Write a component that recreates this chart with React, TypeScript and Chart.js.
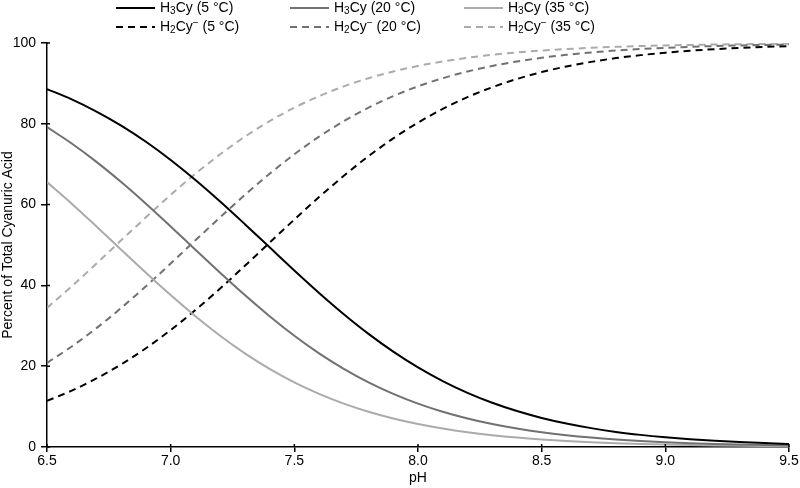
import React, { useEffect, useRef } from 'react';
import { Chart, registerables } from 'chart.js';

Chart.register(...registerables);

const pH = [6.5, 6.6, 6.7, 6.8, 6.9, 7.0, 7.1, 7.2, 7.3, 7.4, 7.5, 7.6, 7.7, 7.8, 7.9, 8.0, 8.1, 8.2, 8.3, 8.4, 8.5, 8.6, 8.7, 8.8, 8.9, 9.0, 9.1, 9.2, 9.3, 9.4, 9.5];

const h3cy5 = [88.59, 86.05, 83.04, 79.55, 75.55, 71.05, 66.10, 60.77, 55.16, 49.42, 43.70, 38.14, 32.88, 28.01, 23.61, 19.71, 16.32, 13.41, 10.95, 8.90, 7.20, 5.81, 4.67, 3.74, 3.00, 2.40, 1.91, 1.53, 1.22, 0.97, 0.77];
const h3cy20 = [79.17, 75.12, 70.58, 65.58, 60.22, 54.59, 48.85, 43.14, 37.60, 32.37, 27.55, 23.19, 19.35, 16.00, 13.15, 10.73, 8.72, 7.05, 5.68, 4.57, 3.66, 2.93, 2.34, 1.87, 1.49, 1.19, 0.95, 0.75, 0.60, 0.48, 0.38];
const h3cy35 = [65.58, 60.22, 54.59, 48.85, 43.14, 37.60, 32.37, 27.55, 23.19, 19.35, 16.00, 13.15, 10.73, 8.72, 7.05, 5.68, 4.57, 3.66, 2.93, 2.34, 1.87, 1.49, 1.19, 0.95, 0.75, 0.60, 0.48, 0.38, 0.30, 0.24, 0.19];
const h2cy5 = [11.41, 13.95, 16.96, 20.45, 24.45, 28.95, 33.90, 39.23, 44.84, 50.58, 56.30, 61.86, 67.12, 71.99, 76.39, 80.29, 83.68, 86.59, 89.05, 91.10, 92.80, 94.19, 95.33, 96.26, 97.00, 97.60, 98.09, 98.47, 98.78, 99.03, 99.23];
const h2cy20 = [20.83, 24.88, 29.42, 34.42, 39.78, 45.41, 51.15, 56.86, 62.40, 67.63, 72.45, 76.81, 80.65, 84.00, 86.85, 89.27, 91.28, 92.95, 94.32, 95.43, 96.34, 97.07, 97.66, 98.13, 98.51, 98.81, 99.05, 99.25, 99.40, 99.52, 99.62];
const h2cy35 = [34.42, 39.78, 45.41, 51.15, 56.86, 62.40, 67.63, 72.45, 76.81, 80.65, 84.00, 86.85, 89.27, 91.28, 92.95, 94.32, 95.43, 96.34, 97.07, 97.66, 98.13, 98.51, 98.81, 99.05, 99.25, 99.40, 99.52, 99.62, 99.70, 99.76, 99.81];

const temps = ['5 °C', '20 °C', '35 °C'];
const seriesLabels = ['H₃Cy (5 °C)', 'H₃Cy (20 °C)', 'H₃Cy (35 °C)', 'H₂Cy⁻ (5 °C)', 'H₂Cy⁻ (20 °C)', 'H₂Cy⁻ (35 °C)'];
const xTicks = [6.5, 7.0, 7.5, 8.0, 8.5, 9.0, 9.5];
const yTicks = [0, 20, 40, 60, 80, 100];

const FONT = '"Liberation Sans", Arial, Helvetica, sans-serif';
const COLORS = ['#000000', '#717171', '#ababab'];

type Part = { t: string; mode?: 'sub' | 'sup' };

function legendParts(i: number): Part[] {
  const temp = temps[i % 3];
  if (i < 3) return [{ t: 'H' }, { t: '3', mode: 'sub' }, { t: 'Cy' }, { t: ' (' + temp + ')' }];
  return [{ t: 'H' }, { t: '2', mode: 'sub' }, { t: 'Cy' }, { t: '−', mode: 'sup' }, { t: ' (' + temp + ')' }];
}

const gridLegend = {
  id: 'gridLegend',
  afterDraw(chart: any) {
    const ctx = chart.ctx as CanvasRenderingContext2D;
    chart.data.datasets.forEach((ds: any, i: number) => {
      const col = i % 3;
      const row = Math.floor(i / 3);
      const x0 = 116 + col * 174;
      const y = row === 0 ? 8 : 27;
      ctx.save();
      ctx.strokeStyle = ds.borderColor;
      ctx.lineWidth = 2;
      ctx.setLineDash(ds.borderDash || []);
      ctx.beginPath();
      ctx.moveTo(x0, y);
      ctx.lineTo(x0 + 39, y);
      ctx.stroke();
      ctx.setLineDash([]);
      ctx.fillStyle = '#000';
      ctx.textBaseline = 'middle';
      ctx.textAlign = 'left';
      let x = x0 + 44;
      legendParts(i).forEach((p) => {
        if (p.mode) {
          ctx.font = '10px ' + FONT;
          const dy = p.mode === 'sub' ? 3 : -4;
          ctx.fillText(p.t, x, y + dy);
          x += ctx.measureText(p.t).width;
        } else {
          ctx.font = '14px ' + FONT;
          ctx.fillText(p.t, x, y);
          x += ctx.measureText(p.t).width;
        }
      });
      ctx.restore();
    });
  },
};

const innerTicks = {
  id: 'innerTicks',
  afterDraw(chart: any) {
    const ctx = chart.ctx as CanvasRenderingContext2D;
    const { left, bottom } = chart.chartArea;
    const xs = chart.scales.x;
    const ys = chart.scales.y;
    ctx.save();
    ctx.strokeStyle = '#000';
    ctx.lineWidth = 1.5;
    ctx.beginPath();
    xTicks.forEach((v) => {
      const px = xs.getPixelForValue(v);
      ctx.moveTo(px, bottom);
      ctx.lineTo(px, bottom - 3);
    });
    yTicks.forEach((v) => {
      const py = ys.getPixelForValue(v);
      ctx.moveTo(left, py);
      ctx.lineTo(left + 3, py);
    });
    ctx.stroke();
    ctx.restore();
  },
};

export default function App() {
  const ref = useRef<HTMLCanvasElement | null>(null);

  useEffect(() => {
    if (!ref.current) return;
    const series = [h3cy5, h3cy20, h3cy35, h2cy5, h2cy20, h2cy35];
    const datasets = series.map((arr, i) => ({
      label: seriesLabels[i],
      data: pH.map((x, j) => ({ x, y: arr[j] })),
      borderColor: COLORS[i % 3],
      backgroundColor: COLORS[i % 3],
      borderWidth: 2,
      borderDash: i < 3 ? [] : [7, 5],
      pointRadius: 0,
      fill: false,
      cubicInterpolationMode: 'monotone' as const,
    }));
    const chart = new Chart(ref.current, {
      type: 'line',
      data: { datasets },
      options: {
        animation: false,
        responsive: true,
        maintainAspectRatio: false,
        layout: { padding: { top: 43, right: 11, left: 0, bottom: 0 } },
        plugins: { legend: { display: false }, tooltip: { enabled: false } },
        scales: {
          x: {
            type: 'linear',
            min: 6.5,
            max: 9.5,
            afterBuildTicks: (s: any) => {
              s.ticks = xTicks.map((v) => ({ value: v }));
            },
            afterFit: (s: any) => {
              s.height = 41;
            },
            ticks: {
              callback: (v: any) => Number(v).toFixed(1),
              font: { family: FONT, size: 14 },
              color: '#000',
              padding: 1,
              maxRotation: 0,
            },
            grid: { drawOnChartArea: false, drawTicks: true, tickLength: 5, color: '#000', lineWidth: 1.5 },
            border: { display: true, color: '#000', width: 1.5 },
            title: { display: true, text: 'pH', font: { family: FONT, size: 14 }, color: '#000', padding: { top: 0, bottom: 1 } },
          },
          y: {
            min: 0,
            max: 100,
            afterBuildTicks: (s: any) => {
              s.ticks = yTicks.map((v) => ({ value: v }));
            },
            afterFit: (s: any) => {
              s.width = 47;
            },
            ticks: { font: { family: FONT, size: 14 }, color: '#000', padding: 5 },
            grid: { drawOnChartArea: false, drawTicks: true, tickLength: 6, color: '#000', lineWidth: 1.5 },
            border: { display: true, color: '#000', width: 1.5 },
            title: {
              display: true,
              text: 'Percent of Total Cyanuric Acid',
              font: { family: FONT, size: 14 },
              color: '#000',
              padding: { top: 0, bottom: 0 },
            },
          },
        },
      },
      plugins: [gridLegend, innerTicks],
    });
    return () => chart.destroy();
  }, []);

  return (
    <div style={{ position: 'absolute', left: 0, top: 0, width: 800, height: 488, background: '#fff' }}>
      <canvas ref={ref} />
    </div>
  );
}
